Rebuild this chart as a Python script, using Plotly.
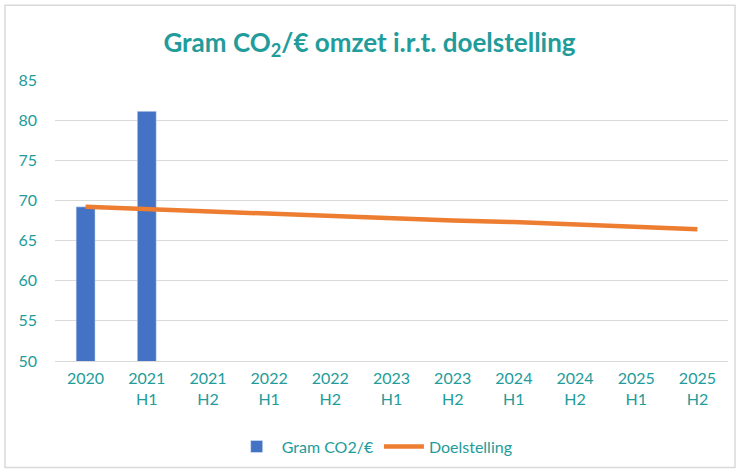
import plotly.graph_objects as go

categories = ["2020", "2021<br>H1", "2021<br>H2", "2022<br>H1", "2022<br>H2", "2023<br>H1",
              "2023<br>H2", "2024<br>H1", "2024<br>H2", "2025<br>H1", "2025<br>H2"]
gram_co2 = [69.2, 81.1, None, None, None, None, None, None, None, None, None]
doelstelling = [69.2, 68.9, 68.6, 68.4, 68.1, 67.8, 67.5, 67.3, 67.0, 66.7, 66.4]

teal = "#229C9A"
font_family = "Lato, 'Open Sans', sans-serif"

fig = go.Figure()
fig.add_trace(go.Bar(x=categories, y=gram_co2, name="Gram CO2/€",
                     marker=dict(color="#4472C4")))
fig.add_trace(go.Scatter(x=categories, y=doelstelling, name="Doelstelling", mode="lines",
                         line=dict(color="#ED7D31", width=4.5)))

fig.update_layout(
    width=739, height=473,
    margin=dict(l=55, r=11, t=80, b=111),
    paper_bgcolor="white", plot_bgcolor="white",
    bargap=0.69,
    font=dict(family=font_family, color=teal, size=15),
    title=dict(text="<b>Gram CO<sub>2</sub>/€ omzet i.r.t. doelstelling</b>",
               x=0.5, xanchor="center", y=0.91, yanchor="middle",
               font=dict(size=26, color=teal, family=font_family)),
    yaxis=dict(range=[50, 85], dtick=5, showgrid=True, gridcolor="#D9D9D9", gridwidth=1,
               zeroline=False, showline=False, ticks="", tickfont=dict(size=16, color=teal),
               ticklabelstandoff=17),
    xaxis=dict(showgrid=False, showline=True, linecolor="#D9D9D9", ticks="",
               tickfont=dict(size=16, color=teal), ticklabelstandoff=3),
    legend=dict(orientation="h", x=0.475, xanchor="center", y=-0.3, yanchor="middle",
                font=dict(size=16, color=teal), itemwidth=40),
    shapes=[dict(type="rect", xref="paper", yref="paper",
                 x0=-50/673, x1=1+7/673, y0=-107/282, y1=1+75/282,
                 line=dict(color="#D9D9D9", width=1.5), fillcolor="rgba(0,0,0,0)")],
)

fig.write_html("out.html", config={"displayModeBar": False},
               post_script="document.body.style.margin='0';")
